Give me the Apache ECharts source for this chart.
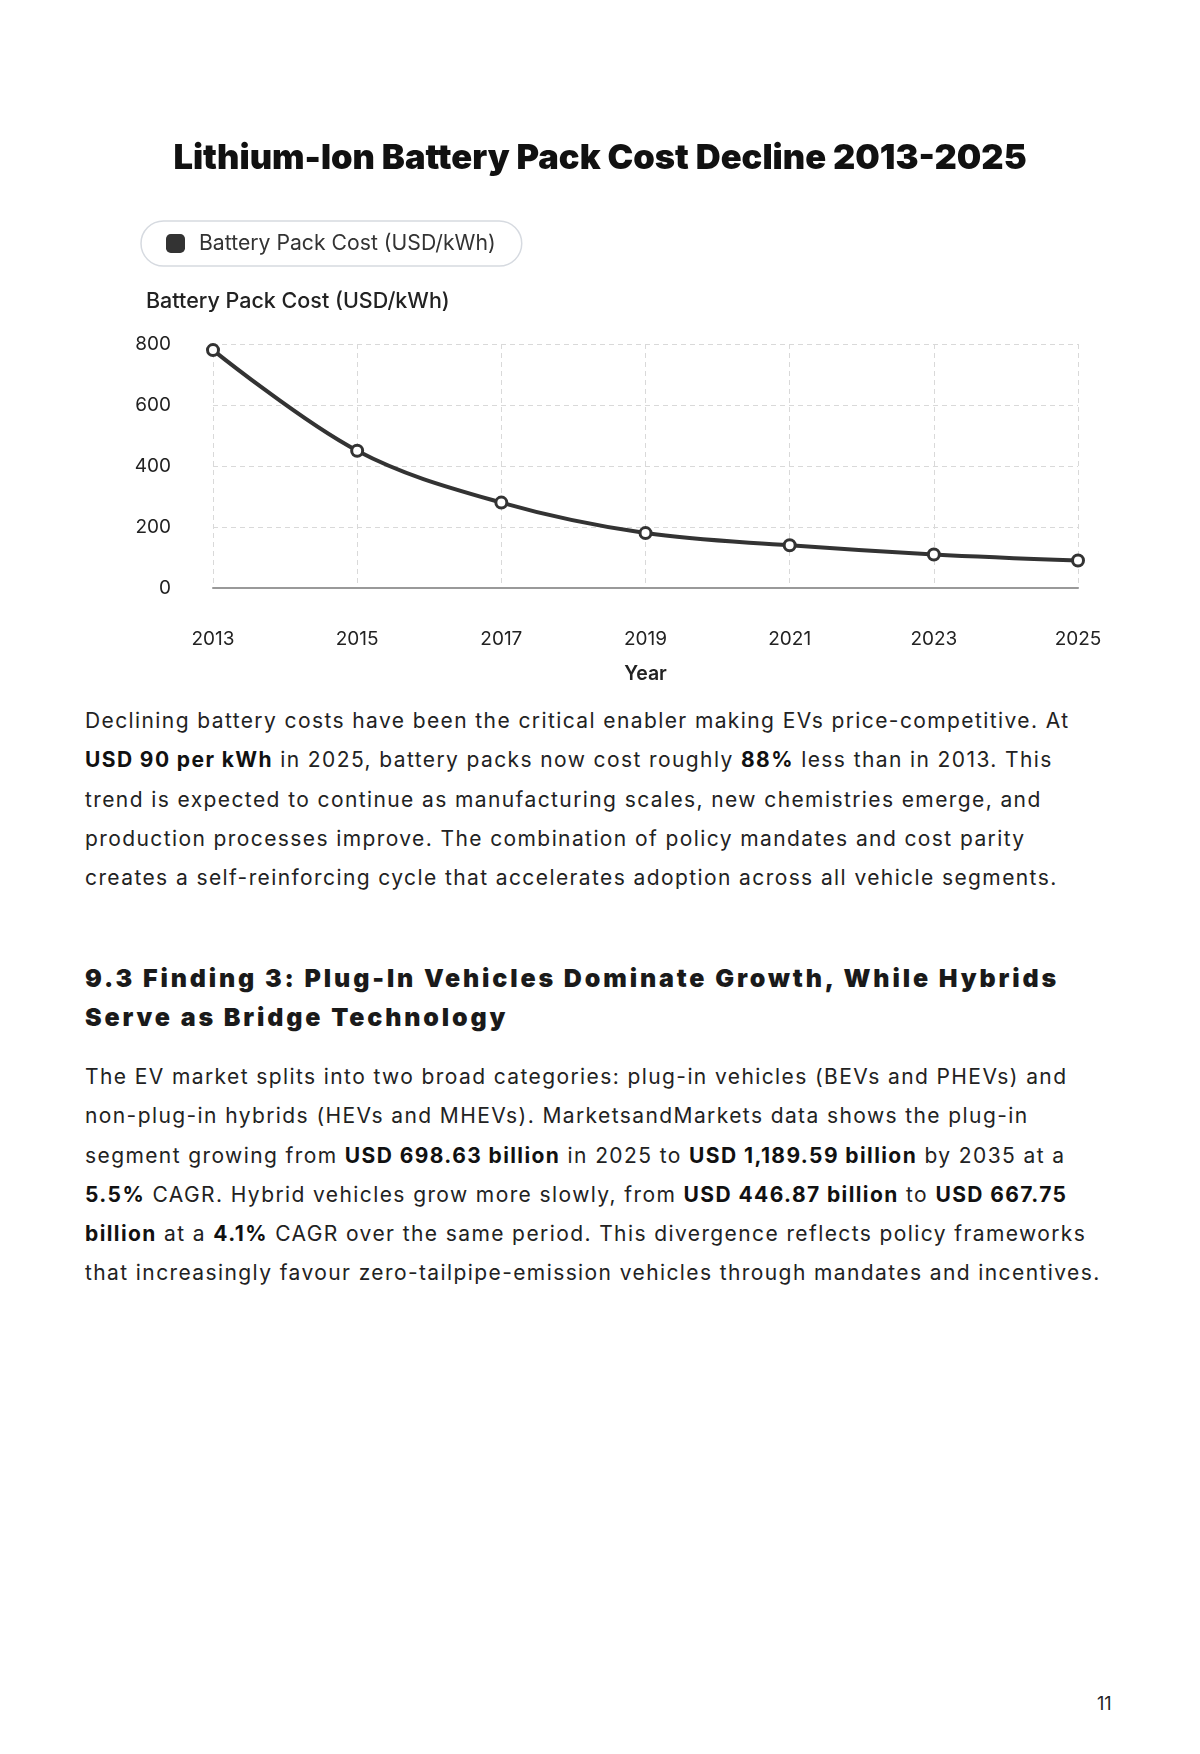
<!DOCTYPE html>
<html>
<head>
<meta charset="utf-8">
<title>Lithium-Ion Battery Pack Cost Decline</title>
<script src="https://cdn.jsdelivr.net/npm/echarts@6/dist/echarts.min.js"></script>
<style>
  html, body { margin: 0; padding: 0; background: #fff; }
  body { width: 1200px; height: 1754px; position: relative; font-family: Inter, "Noto Sans", sans-serif; color: #222; }
  #chart { position: absolute; left: 0; top: 0; width: 1200px; height: 700px; }
  .txt { position: absolute; left: 85px; font-size: 21px; line-height: 39.3px; letter-spacing: 1.4px; white-space: nowrap; }
  .txt b { font-weight: 700; color: #111; }
  .h3 { position: absolute; left: 85px; top: 959px; font-size: 25px; line-height: 39px; font-weight: 900; letter-spacing: 2.85px; color: #1a1a1a; white-space: nowrap; }
  .pg { position: absolute; left: 1097px; top: 1693px; font-size: 18px; color: #222; }
</style>
</head>
<body>
<div id="chart"></div>

<div class="txt" style="top:701px">
Declining battery costs have been the critical enabler making EVs price-competitive. At<br>
<b>USD 90 per kWh</b> in 2025, battery packs now cost roughly <b>88%</b> less than in 2013. This<br>
trend is expected to continue as manufacturing scales, new chemistries emerge, and<br>
production processes improve. The combination of policy mandates and cost parity<br>
creates a self-reinforcing cycle that accelerates adoption across all vehicle segments.
</div>

<div class="h3">9.3 Finding 3: Plug-In Vehicles Dominate Growth, While Hybrids<br>Serve as Bridge Technology</div>

<div class="txt" style="top:1057px">
The EV market splits into two broad categories: plug-in vehicles (BEVs and PHEVs) and<br>
non-plug-in hybrids (HEVs and MHEVs). MarketsandMarkets data shows the plug-in<br>
segment growing from <b>USD 698.63 billion</b> in 2025 to <b>USD 1,189.59 billion</b> by 2035 at a<br>
<b>5.5%</b> CAGR. Hybrid vehicles grow more slowly, from <b>USD 446.87 billion</b> to <b>USD 667.75</b><br>
<b>billion</b> at a <b>4.1%</b> CAGR over the same period. This divergence reflects policy frameworks<br>
that increasingly favour zero-tailpipe-emission vehicles through mandates and incentives.
</div>

<div class="pg">11</div>

<script type="text/javascript">
// 数据
var years = ['2013', '2015', '2017', '2019', '2021', '2023', '2025'];
var packCost = [780, 450, 280, 180, 140, 110, 90];
var yTicks = [0, 200, 400, 600, 800];

var seriesName = 'Battery Pack Cost (USD/kWh)';
var font = 'Inter, "Noto Sans", sans-serif';

var myChart = echarts.init(document.getElementById('chart'));

var option = {
    animation: false,
    title: [{
        text: 'Lithium-Ion Battery Pack Cost Decline 2013-2025',
        left: 'center',
        top: 136,
        textStyle: { fontSize: 34.5, fontWeight: 900, color: '#111', fontFamily: font }
    }, {
        text: 'Battery Pack Cost (USD/kWh)',
        left: 141,
        top: 286,
        textStyle: { fontSize: 21.5, fontWeight: 500, color: '#222', fontFamily: font }
    }],
    legend: {
        left: 141,
        top: 221,
        padding: [12, 26, 12, 25],
        borderColor: '#d6dae0',
        borderWidth: 1.5,
        borderRadius: 23,
        icon: 'roundRect',
        itemWidth: 19,
        itemHeight: 19,
        itemStyle: { color: '#333', borderWidth: 0 },
        textStyle: { fontSize: 21.2, color: '#333', fontFamily: font, padding: [0, 0, 0, 9] },
        data: [seriesName]
    },
    grid: { left: 213, right: 122, top: 344, bottom: 112 },
    xAxis: {
        type: 'category',
        data: years,
        boundaryGap: false,
        name: 'Year',
        nameLocation: 'middle',
        nameGap: 76,
        nameTextStyle: { fontSize: 19.5, fontWeight: 600, color: '#222', fontFamily: font },
        axisLine: { lineStyle: { color: '#999', width: 2 } },
        axisTick: { show: false },
        axisLabel: { margin: 42, fontSize: 19, color: '#222', fontFamily: font },
        splitLine: { show: true, lineStyle: { color: '#d9d9d9', type: [5, 4] } }
    },
    yAxis: {
        type: 'value',
        min: yTicks[0],
        max: yTicks[yTicks.length - 1],
        interval: 200,
        axisLine: { show: false },
        axisTick: { show: false },
        axisLabel: { margin: 42, fontSize: 19, color: '#222', fontFamily: font },
        splitLine: { lineStyle: { color: '#d9d9d9', type: [5, 4] } }
    },
    series: [{
        name: seriesName,
        type: 'line',
        data: packCost,
        smooth: 0.35,
        symbol: 'circle',
        symbolSize: 11,
        color: '#333',
        lineStyle: { color: '#333', width: 4 },
        itemStyle: { color: '#fff', borderColor: '#333', borderWidth: 3 }
    }]
};
myChart.setOption(option);
</script>
</body>
</html>
